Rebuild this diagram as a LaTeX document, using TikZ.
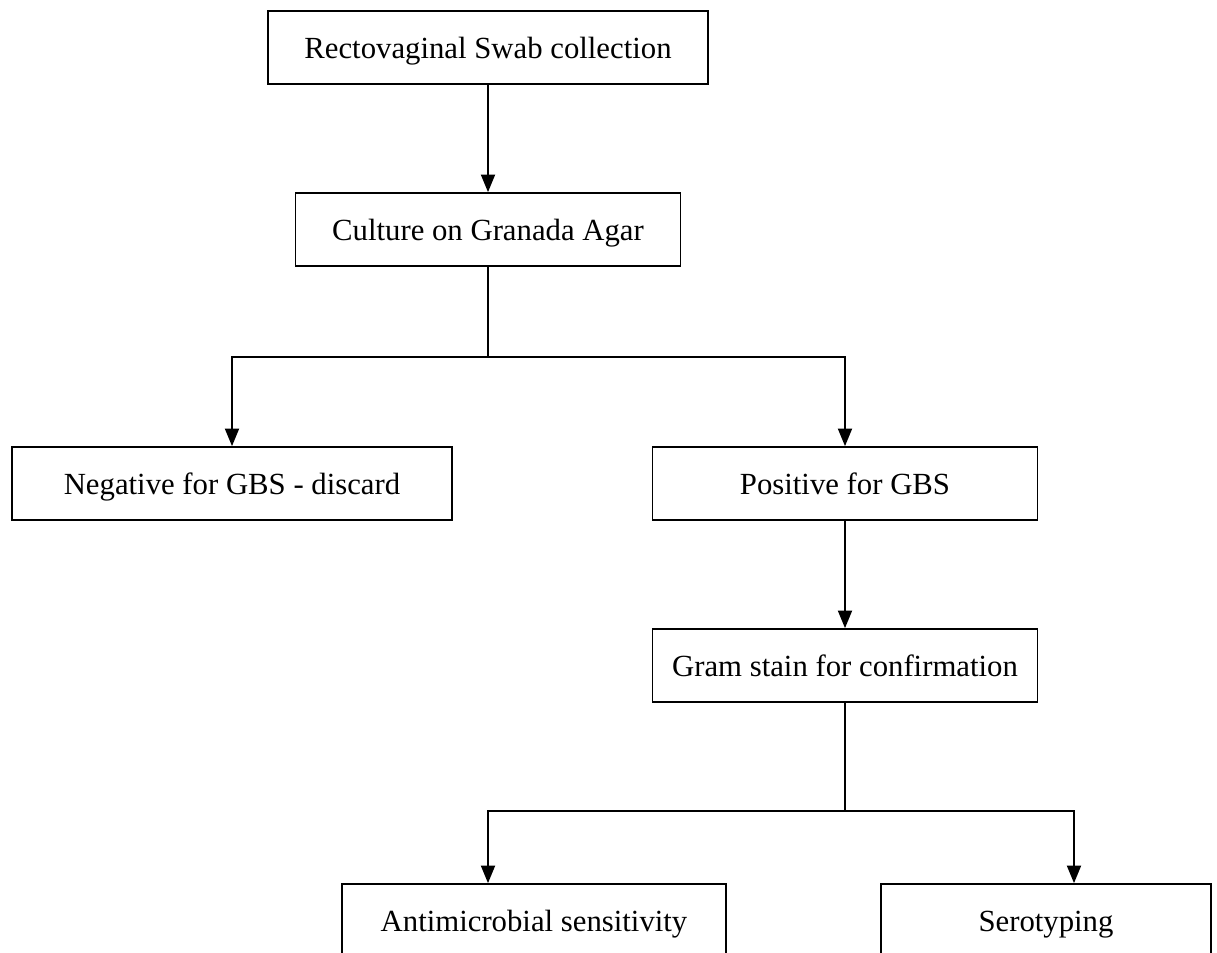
\documentclass[tikz,border=0pt]{standalone}
\usepackage{fontspec}
\setmainfont{Liberation Serif}
\usetikzlibrary{arrows.meta}

\begin{document}
\begin{tikzpicture}[
        x=0.02cm, y=-0.02cm,
        line width=1pt,
        box/.style={
        rectangle, draw=black,
        inner sep=0pt, minimum height=1.46cm,
        text height=12pt, text depth=0pt,
        font=\fontsize{17.5}{21}\selectfont},
        arr/.style={-{Triangle[width=8pt,length=10pt]}},
        ]

        \useasboundingbox (0,0) rectangle (1217,953);

        \node (swab) [box, minimum width=8.8cm] at (488,47.5){Rectovaginal Swab collection};
        \node (culture) [box, minimum width=7.7cm] at (488,229.5){Culture on Granada Agar};
        \node (neg) [box, minimum width=8.8cm] at (232,483.5){Negative for GBS - discard};
        \node (pos) [box, minimum width=7.7cm] at (845,483.5){Positive for GBS};
        \node (gram) [box, minimum width=7.7cm] at (845,665.5){Gram stain for confirmation};
        \node (anti) [box, minimum width=7.68cm] at (534,920.5){Antimicrobial sensitivity};
        \node (sero) [box, minimum width=6.6cm] at (1046,920.5){Serotyping};

        \coordinate (fork1) at (488,357);
        \coordinate (fork2) at (845,811);

        \draw [arr] (swab) -- (culture);
        \draw (culture) -- (fork1);
        \draw [arr] (fork1) -| (neg);
        \draw [arr] (fork1) -| (pos);
        \draw [arr] (pos) -- (gram);
        \draw (gram) -- (fork2);
        \draw [arr] (fork2) -| ([xshift=-0.92cm]anti.north);
        \draw [arr] (fork2) -| ([xshift=0.56cm]sero.north);
    \end{tikzpicture}
\end{document}
